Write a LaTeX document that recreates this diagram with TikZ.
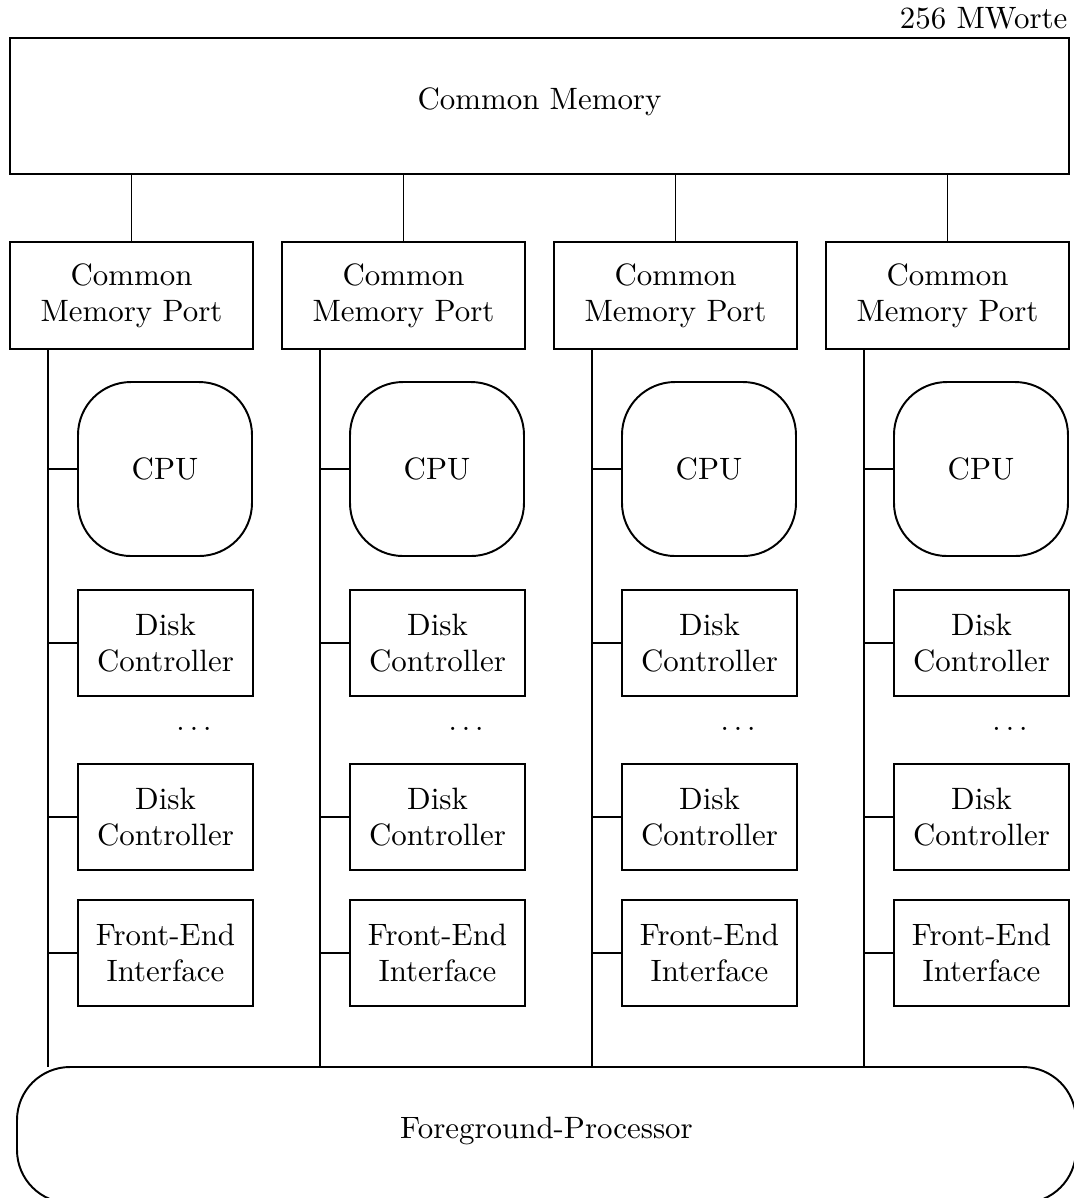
\documentclass[tikz,border=0pt]{standalone}
\usepackage{tikz}
\newcommand\labelfont{\fontsize{10.3}{12}\selectfont}
\tikzset{
  unitbox/.style 2 args={minimum width=#1*0.33333pt, minimum height=#2*0.33333pt},
  blk/.style={draw, line width=0.65pt, align=center, inner sep=0pt, outer sep=0pt, font=\labelfont},
  roundblk/.style={blk, rounded corners=17.67pt},
  oneline/.style={text height=6pt, text depth=3.5pt},
  wire/.style={line width=0.65pt},
}
\begin{document}
\begin{tikzpicture}[x=0.33333pt, y=-0.33333pt]
  \useasboundingbox (0,0) rectangle (1074,1198);

  % shared memory and its size
  \node[blk, oneline, unitbox={1059}{136}] (cm) at (539.5,106) {Common Memory};
  \node[font=\labelfont, anchor=base east, inner sep=0pt] (size) at (1068,28) {256 MWorte};

  % front-end processor along the bottom
  \node[roundblk, oneline, unitbox={1059}{136}] (fp) at (546.5,1135) {Foreground-Processor};

  % four identical processor columns
  \foreach \i in {0,...,3} {
    \pgfmathsetmacro\o{272*\i}
    \node[blk, unitbox={243}{107}] (port\i) at ({131.5+\o},295.5) {Common\\Memory Port};
    \node[roundblk, unitbox={174}{174}] (cpu\i) at ({165+\o},469) {CPU};
    \node[blk, unitbox={175}{106}] (dka\i) at ({165.5+\o},643) {Disk\\Controller};
    \node[font=\labelfont, inner sep=0pt] (dots\i) at ({194+\o},729) {$\ldots$};
    \node[blk, unitbox={175}{106}] (dkb\i) at ({165.5+\o},817) {Disk\\Controller};
    \node[blk, unitbox={175}{106}] (fe\i) at ({165.5+\o},953) {Front-End\\Interface};

    % link to the common memory
    \draw[wire] (port\i.north) -- (port\i.north |- cm.south);

    % local bus from the port down to the front-end processor
    \coordinate (bus\i) at ({48+\o},349);
    \draw[wire] (bus\i) -- (bus\i |- fp.north);
    \foreach \n in {cpu,dka,dkb,fe}
      \draw[wire] (\n\i.west) -- (\n\i.west -| bus\i);
  }
\end{tikzpicture}
\end{document}
